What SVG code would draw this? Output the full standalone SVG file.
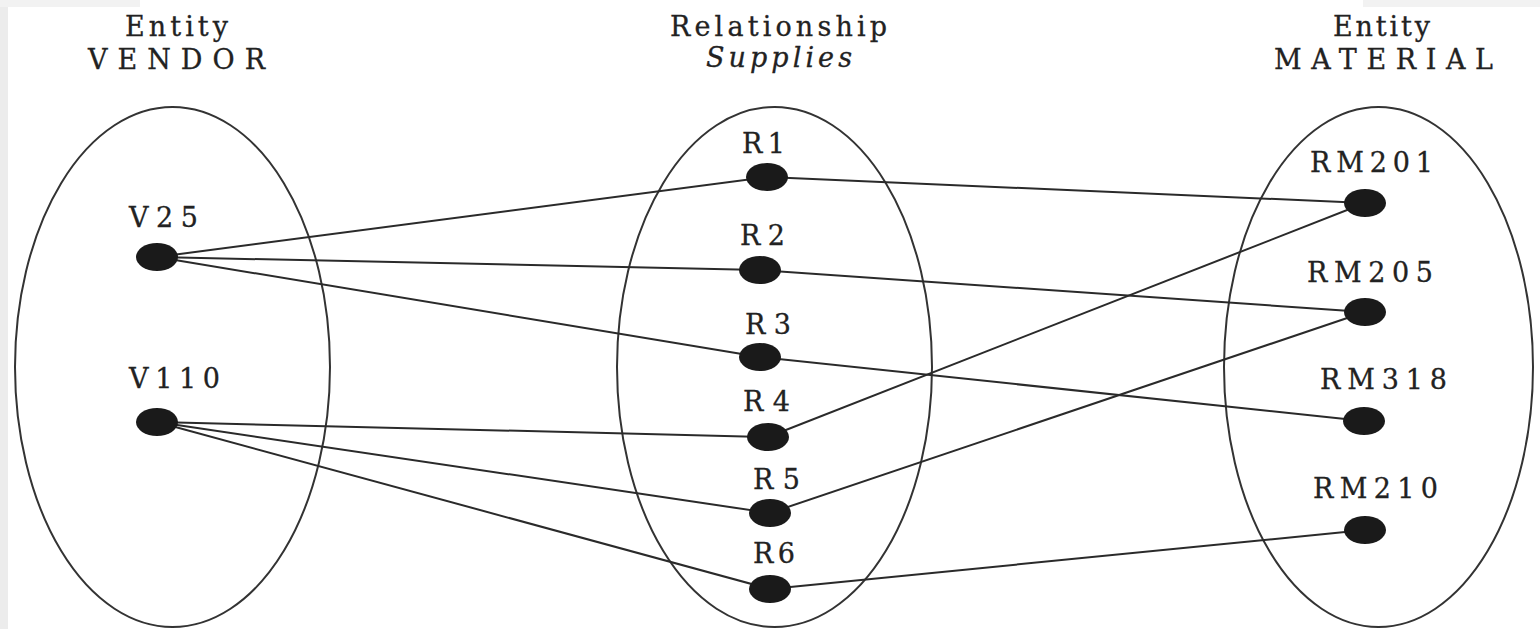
<svg xmlns="http://www.w3.org/2000/svg" width="1540" height="629" viewBox="0 0 1540 629">
<style>
.set{fill:none;stroke:#333;stroke-width:2}
.dot{fill:#1a1a1a}
.lbl{font-family:"DejaVu Serif","Liberation Serif",serif;font-size:27px;fill:#222;stroke:#222;stroke-width:0.3}
.conn line{stroke:#2a2a2a;stroke-width:2}
</style>
<rect x="0" y="0" width="1540" height="629" fill="#fff"/>
<rect x="0" y="0" width="8" height="629" fill="#ececec"/>
<rect x="0" y="0" width="140" height="7" fill="#f2f2f2"/>
<rect x="1363" y="0" width="177" height="7" fill="#f2f2f2"/>
<g id="titles">
<text class="lbl" x="125" y="36" textLength="103" lengthAdjust="spacing">Entity</text>
<text class="lbl" x="88" y="69" textLength="177" lengthAdjust="spacing">VENDOR</text>
<text class="lbl" x="670" y="36" textLength="217" lengthAdjust="spacing">Relationship</text>
<text class="lbl" x="706" y="67" font-style="italic" textLength="146" lengthAdjust="spacing">Supplies</text>
<text class="lbl" x="1333" y="36" textLength="97" lengthAdjust="spacing">Entity</text>
<text class="lbl" x="1274" y="69" textLength="219" lengthAdjust="spacing">MATERIAL</text>
</g>
<g id="set-vendor"><ellipse class="set" cx="172.5" cy="367" rx="157.5" ry="260"/></g>
<g id="set-supplies"><ellipse class="set" cx="774.5" cy="367" rx="157.5" ry="260"/></g>
<g id="set-material"><ellipse class="set" cx="1378.5" cy="367" rx="154.5" ry="260"/></g>
<g id="connectors" class="conn">
<line x1="157" y1="257" x2="767" y2="177"/>
<line x1="157" y1="257" x2="760" y2="270"/>
<line x1="157" y1="257" x2="760" y2="357"/>
<line x1="157" y1="422" x2="768" y2="437"/>
<line x1="157" y1="422" x2="770" y2="513"/>
<line x1="157" y1="422" x2="770" y2="589"/>
<line x1="767" y1="177" x2="1365" y2="203"/>
<line x1="760" y1="270" x2="1365" y2="312"/>
<line x1="760" y1="357" x2="1364" y2="421"/>
<line x1="768" y1="437" x2="1365" y2="203"/>
<line x1="770" y1="513" x2="1365" y2="312"/>
<line x1="770" y1="589" x2="1365" y2="530"/>
</g>
<g id="V25"><ellipse class="dot" cx="157" cy="257" rx="21" ry="14"/><text class="lbl" x="129" y="227" textLength="69" lengthAdjust="spacing">V25</text></g>
<g id="V110"><ellipse class="dot" cx="157" cy="422" rx="21" ry="14"/><text class="lbl" x="129" y="388" textLength="91" lengthAdjust="spacing">V110</text></g>
<g id="R1"><ellipse class="dot" cx="767" cy="177" rx="21" ry="14"/><text class="lbl" x="742" y="153" textLength="43" lengthAdjust="spacing">R1</text></g>
<g id="R2"><ellipse class="dot" cx="760" cy="270" rx="21" ry="14"/><text class="lbl" x="740" y="245" textLength="45" lengthAdjust="spacing">R2</text></g>
<g id="R3"><ellipse class="dot" cx="760" cy="357" rx="21" ry="14"/><text class="lbl" x="745" y="334" textLength="46" lengthAdjust="spacing">R3</text></g>
<g id="R4"><ellipse class="dot" cx="768" cy="437" rx="21" ry="14"/><text class="lbl" x="743" y="411" textLength="47" lengthAdjust="spacing">R4</text></g>
<g id="R5"><ellipse class="dot" cx="770" cy="513" rx="21" ry="14"/><text class="lbl" x="753" y="489" textLength="47" lengthAdjust="spacing">R5</text></g>
<g id="R6"><ellipse class="dot" cx="770" cy="589" rx="21" ry="14"/><text class="lbl" x="753" y="563" textLength="42" lengthAdjust="spacing">R6</text></g>
<g id="RM201"><ellipse class="dot" cx="1365" cy="203" rx="21" ry="14"/><text class="lbl" x="1310" y="172" textLength="123" lengthAdjust="spacing">RM201</text></g>
<g id="RM205"><ellipse class="dot" cx="1365" cy="312" rx="21" ry="14"/><text class="lbl" x="1307" y="282" textLength="126" lengthAdjust="spacing">RM205</text></g>
<g id="RM318"><ellipse class="dot" cx="1364" cy="421" rx="21" ry="14"/><text class="lbl" x="1320" y="389" textLength="127" lengthAdjust="spacing">RM318</text></g>
<g id="RM210"><ellipse class="dot" cx="1365" cy="530" rx="21" ry="14"/><text class="lbl" x="1313" y="498" textLength="125" lengthAdjust="spacing">RM210</text></g>
</svg>
